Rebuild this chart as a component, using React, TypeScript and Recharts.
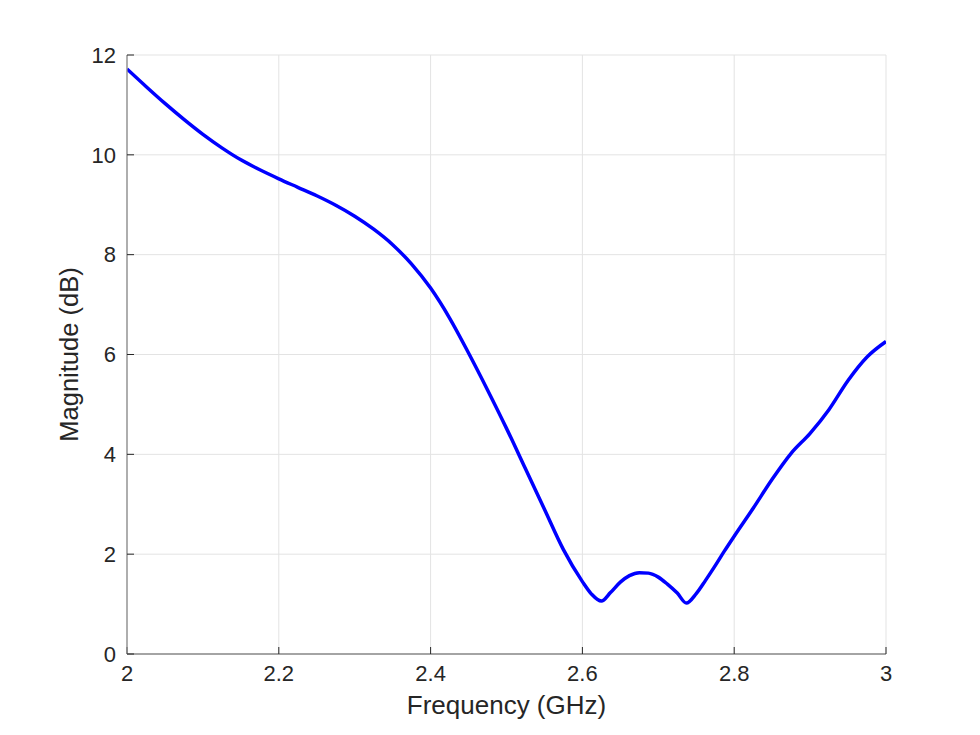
import React from 'react';
import { LineChart, Line, XAxis, YAxis, CartesianGrid, Label } from 'recharts';

const frequencyGHz = [
  2.0, 2.025, 2.05, 2.075, 2.1, 2.125, 2.15, 2.175, 2.2, 2.225, 2.25, 2.275, 2.3, 2.325, 2.35, 2.375,
  2.4, 2.425, 2.45, 2.475, 2.5, 2.525, 2.55, 2.575, 2.6, 2.612, 2.625, 2.637, 2.65, 2.662, 2.675,
  2.687, 2.7, 2.712, 2.725, 2.737, 2.75, 2.762, 2.775, 2.787, 2.8, 2.825, 2.85, 2.875, 2.9, 2.925,
  2.95, 2.975, 3.0,
];
const magnitudeDb = [
  11.72, 11.37, 11.03, 10.71, 10.41, 10.14, 9.9, 9.7, 9.52, 9.35, 9.18, 8.99, 8.77, 8.51, 8.2, 7.81,
  7.33, 6.73, 6.03, 5.29, 4.52, 3.71, 2.9, 2.09, 1.45, 1.2, 1.06, 1.23, 1.44, 1.57, 1.63,
  1.62, 1.54, 1.4, 1.22, 1.02, 1.21, 1.47, 1.77, 2.06, 2.36, 2.92, 3.5, 4.02, 4.42, 4.9,
  5.48, 5.95, 6.26,
];
const xTicks = [2, 2.2, 2.4, 2.6, 2.8, 3];
const xTickLabels = ['2', '2.2', '2.4', '2.6', '2.8', '3'];
const yTicks = [0, 2, 4, 6, 8, 10, 12];

const data = frequencyGHz.map((f, i) => ({ f, v: magnitudeDb[i] }));

const FONT = '"Liberation Sans", Arial, Helvetica, sans-serif';
const TEXT = '#262626';
const AXIS = '#8a8a8a';

const xFmt = (v: number) => {
  const i = xTicks.findIndex((t) => Math.abs(t - v) < 1e-9);
  return i >= 0 ? xTickLabels[i] : String(v);
};

const YLabel = (props: any) => {
  const { viewBox } = props;
  const cx = viewBox.x + 2;
  const cy = viewBox.y + viewBox.height / 2;
  return (
    <text
      x={cx}
      y={cy}
      transform={`rotate(-90, ${cx}, ${cy})`}
      textAnchor="middle"
      dominantBaseline="central"
      fontFamily={FONT}
      fontSize={25.5}
      fill={TEXT}
    >
      Magnitude (dB)
    </text>
  );
};

const XLabel = (props: any) => {
  const { viewBox } = props;
  const cx = viewBox.x + viewBox.width / 2;
  const cy = viewBox.y + 51;
  return (
    <text x={cx} y={cy} textAnchor="middle" dominantBaseline="central" fontFamily={FONT} fontSize={26} fill={TEXT}>
      Frequency (GHz)
    </text>
  );
};

const Title = (props: any) => {
  const { viewBox } = props;
  const cx = viewBox.x + viewBox.width / 2;
  const cy = viewBox.y - 18;
  return (
    <text x={cx} y={cy} textAnchor="middle" dominantBaseline="central" fontFamily={FONT} fontSize={24.5} fontWeight="bold" fill="#000">
      VSWR
    </text>
  );
};

const empty = () => <g />;

export default function App() {
  return (
    <div style={{ position: 'absolute', left: 0, top: 0, width: 980, height: 735, background: '#fff' }}>
      <LineChart
        width={980}
        height={735}
        data={data}
        margin={{ top: 55, right: 94, bottom: 11, left: 67 }}
      >
        <CartesianGrid xAxisId="b" yAxisId="l" stroke="#e3e3e3" strokeWidth={1} />
        <XAxis
          xAxisId="b"
          dataKey="f"
          type="number"
          domain={[2, 3]}
          ticks={xTicks}
          tickFormatter={xFmt}
          allowDataOverflow
          height={70}
          tickSize={-7}
          tickMargin={18}
          axisLine={{ stroke: AXIS, strokeWidth: 1.3 }}
          tickLine={{ stroke: TEXT }}
          tick={{ fill: TEXT, fontSize: 22, fontFamily: FONT }}
        >
          <Label content={<XLabel />} />
        </XAxis>
        <XAxis
          xAxisId="t"
          dataKey="f"
          type="number"
          orientation="top"
          domain={[2, 3]}
          ticks={xTicks}
          allowDataOverflow
          height={0}
          tickSize={-7}
          tick={empty}
          axisLine={{ stroke: AXIS, strokeWidth: 1.3 }}
          tickLine={{ stroke: TEXT }}
        >
          <Label content={<Title />} />
        </XAxis>
        <YAxis
          yAxisId="l"
          type="number"
          domain={[0, 12]}
          ticks={yTicks}
          allowDataOverflow
          width={60}
          tickSize={-7}
          tickMargin={18}
          axisLine={{ stroke: AXIS, strokeWidth: 1.3 }}
          tickLine={{ stroke: TEXT }}
          tick={{ fill: TEXT, fontSize: 22, fontFamily: FONT }}
        >
          <Label content={<YLabel />} />
        </YAxis>
        <YAxis
          yAxisId="r"
          orientation="right"
          type="number"
          domain={[0, 12]}
          ticks={yTicks}
          allowDataOverflow
          width={0}
          tickSize={-7}
          tick={empty}
          axisLine={{ stroke: AXIS, strokeWidth: 1.3 }}
          tickLine={{ stroke: TEXT }}
        />
        <Line
          xAxisId="b"
          yAxisId="l"
          dataKey="v"
          type="monotone"
          stroke="#0000ff"
          strokeWidth={3.5}
          dot={false}
          isAnimationActive={false}
        />
      </LineChart>
    </div>
  );
}
